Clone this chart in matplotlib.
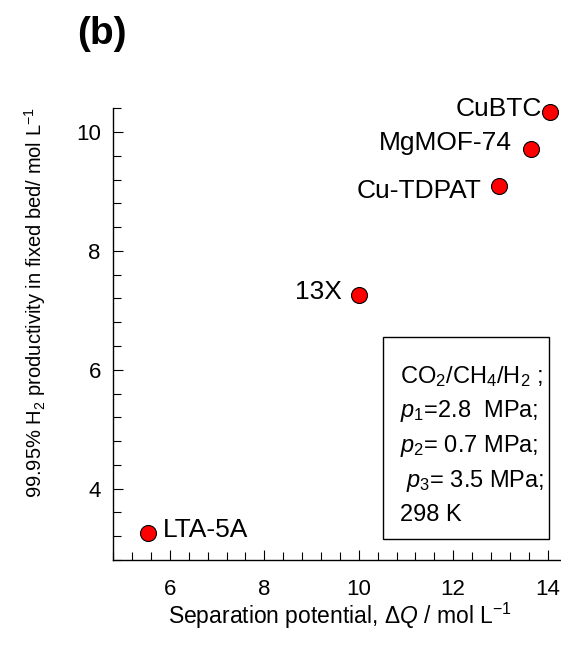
import matplotlib
matplotlib.use("Agg")
import matplotlib.pyplot as plt
from matplotlib.ticker import MultipleLocator
from matplotlib.patches import Rectangle

plt.rcParams['font.family'] = ['Liberation Sans', 'DejaVu Sans']
plt.rcParams['mathtext.fontset'] = 'custom'
plt.rcParams['mathtext.rm'] = 'Liberation Sans'
plt.rcParams['mathtext.it'] = 'Liberation Sans:italic'
plt.rcParams['mathtext.bf'] = 'Liberation Sans:bold'

# Adsorbents: separation potential vs. H2 productivity
materials = ["CuBTC", "MgMOF-74", "Cu-TDPAT", "13X", "LTA-5A"]
delta_q = [14.06, 13.66, 12.97, 10.0, 5.54]
productivity = [10.33, 9.72, 9.10, 7.26, 3.25]

# label offsets (points) and alignment for each material
label_offsets = [(-6.2, -2.9), (-14.4, -1.2), (-12.2, -9.0), (-12.5, -2.6), (10.8, -2.6)]
label_ha = ["right", "right", "right", "right", "left"]

W, H = 561, 655
fig = plt.figure(figsize=(W / 100, H / 100), dpi=100)
ax = fig.add_axes([113.3 / W, 1 - 560 / H, (561 - 113.3) / W, (560 - 108.3) / H])

ax.scatter(delta_q, productivity, s=11.5 ** 2, color="#ff0000",
           edgecolor="black", linewidth=0.8, zorder=3, clip_on=False)

for name, x, y, (dx, dy), ha in zip(materials, delta_q, productivity, label_offsets, label_ha):
    ax.annotate(name, (x, y), xytext=(dx, dy), textcoords="offset points",
                ha=ha, va="baseline", fontsize=19)

ax.set_xlim(4.8, 14.285)
ax.set_ylim(2.8, 10.4)
ax.xaxis.set_major_locator(MultipleLocator(2))
ax.xaxis.set_minor_locator(MultipleLocator(0.4))
ax.yaxis.set_major_locator(MultipleLocator(2))
ax.yaxis.set_minor_locator(MultipleLocator(0.4))

for s in ("top", "right"):
    ax.spines[s].set_visible(False)
for s in ("left", "bottom"):
    ax.spines[s].set_linewidth(1.0)

ax.tick_params(which="both", direction="in", width=0.8, labelsize=16)
ax.tick_params(which="major", length=7)
ax.tick_params(which="minor", length=5.5)
ax.tick_params(axis="x", which="major", pad=14)
ax.tick_params(axis="y", which="major", pad=9)

# conditions box
def px(x, y):
    return x / W, 1 - y / H

bx0, by0 = px(383, 539)
bx1, by1 = px(549, 337)
fig.add_artist(Rectangle((bx0, by0), bx1 - bx0, by1 - by0, transform=fig.transFigure,
                         facecolor="white", edgecolor="black", linewidth=1.0))

box_lines = [
    r"CO$_2$/CH$_4$/H$_2$ ;",
    r"$p_1$=2.8  MPa;",
    r"$p_2$= 0.7 MPa;",
    r" $p_3$= 3.5 MPa;",
    r"298 K",
]
baselines = [383.3, 417.5, 451.7, 486.5, 521.0]
for line, yb in zip(box_lines, baselines):
    fig.text(*px(400, yb), line, fontsize=17, ha="left", va="baseline")

# axis titles
fig.text(*px(340, 624), r"Separation potential, $\Delta\mathit{Q}$ / mol L$^{-1}$",
         fontsize=16.5, ha="center", va="baseline")
fig.text(*px(35, 303), r"99.95% H$_2$ productivity in fixed bed/ mol L$^{-1}$",
         fontsize=14.5, ha="center", va="center", rotation=90)

fig.text(*px(102, 34), "(b)", fontsize=28, fontweight="bold", ha="center", va="center")

fig.savefig("out.png", dpi=100)
